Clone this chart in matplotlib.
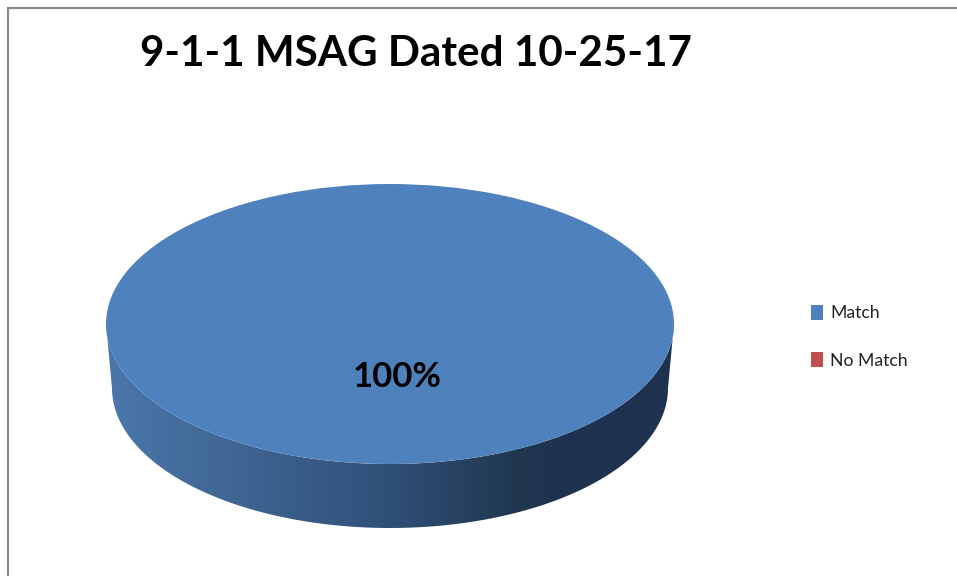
import numpy as np
import matplotlib
matplotlib.use("Agg")
import matplotlib.pyplot as plt
from matplotlib.colors import LinearSegmentedColormap
from matplotlib.patches import Polygon

categories = ["Match", "No Match"]
values = [100, 0]
colors = ["#4f81bd", "#c0504d"]
title = "9-1-1 MSAG Dated 10-25-17"

W, H = 957, 576
plt.rcParams["font.family"] = ["Lato", "DejaVu Sans"]
fig = plt.figure(figsize=(W / 100, H / 100), dpi=100, facecolor="white")

# Pixel-space overlay
bg = fig.add_axes([0, 0, 1, 1])
bg.set_xlim(0, W)
bg.set_ylim(H, 0)
bg.axis("off")

# Chart frame
bg.plot([8, 8, W], [H, 7.5, 7.5], color="#8a8a8a", lw=1.6, solid_joinstyle="miter")

# Pie geometry in pixels
cx, cy, rx, ry = 390, 324, 284, 140
bcx, bcy, brx, bry = 390, 388, 278, 140

# Extruded side with a horizontal gradient
t = np.linspace(0, np.pi, 200)
upper = np.column_stack([cx - rx * np.cos(t), cy + ry * np.sin(t)])
lower = np.column_stack([bcx + brx * np.cos(t), bcy + bry * np.sin(t)])
side = Polygon(np.vstack([upper, lower]), closed=True, fc="none", ec="none",
               transform=bg.transData)
bg.add_patch(side)
cmap = LinearSegmentedColormap.from_list(
    "side",
    [(0.0, "#4a77aa"), (0.25, "#3e6491"), (0.5, "#2f4f78"), (0.72, "#21374f"),
     (0.8, "#1f3350"), (1.0, "#1e3250")],
)
im = bg.imshow(np.linspace(0, 1, 512)[None, :], cmap=cmap, aspect="auto",
               extent=[106, 674, 530, 320], zorder=1)
im.set_clip_path(side)
bg.set_xlim(0, W)
bg.set_ylim(H, 0)

# Top face: the pie, stretched to an ellipse by its axes
pie_ax = fig.add_axes([(cx - rx) / W, 1 - (cy + ry) / H, 2 * rx / W, 2 * ry / H])
wedges, _ = pie_ax.pie(values, colors=colors, startangle=90, counterclock=False,
                       radius=1, wedgeprops={"linewidth": 0})
pie_ax.set_aspect("auto")
pie_ax.set_xlim(-1, 1)
pie_ax.set_ylim(-1, 1)
pie_ax.axis("off")
pie_ax.patch.set_alpha(0)

# Text overlay
fg = fig.add_axes([0, 0, 1, 1])
fg.set_xlim(0, W)
fg.set_ylim(H, 0)
fg.axis("off")
fg.patch.set_alpha(0)
fg.text(416, 54, title, ha="center", va="center", fontsize=30.3, fontweight="bold", color="black")
fg.text(397.5, 377, f"{values[0] / sum(values):.0%}", ha="center", va="center",
        fontsize=25, fontweight="bold", color="black")

leg = fg.legend(wedges, categories, loc="upper left", bbox_to_anchor=(804 / W, 1 - 298 / H),
                bbox_transform=fig.transFigure, frameon=False, fontsize=12.7,
                handlelength=0.66, handleheight=0.9, handletextpad=0.42,
                labelspacing=1.75, borderpad=0.4, borderaxespad=0)
for txt in leg.get_texts():
    txt.set_color("#222222")

fig.savefig("out.png", dpi=100)
